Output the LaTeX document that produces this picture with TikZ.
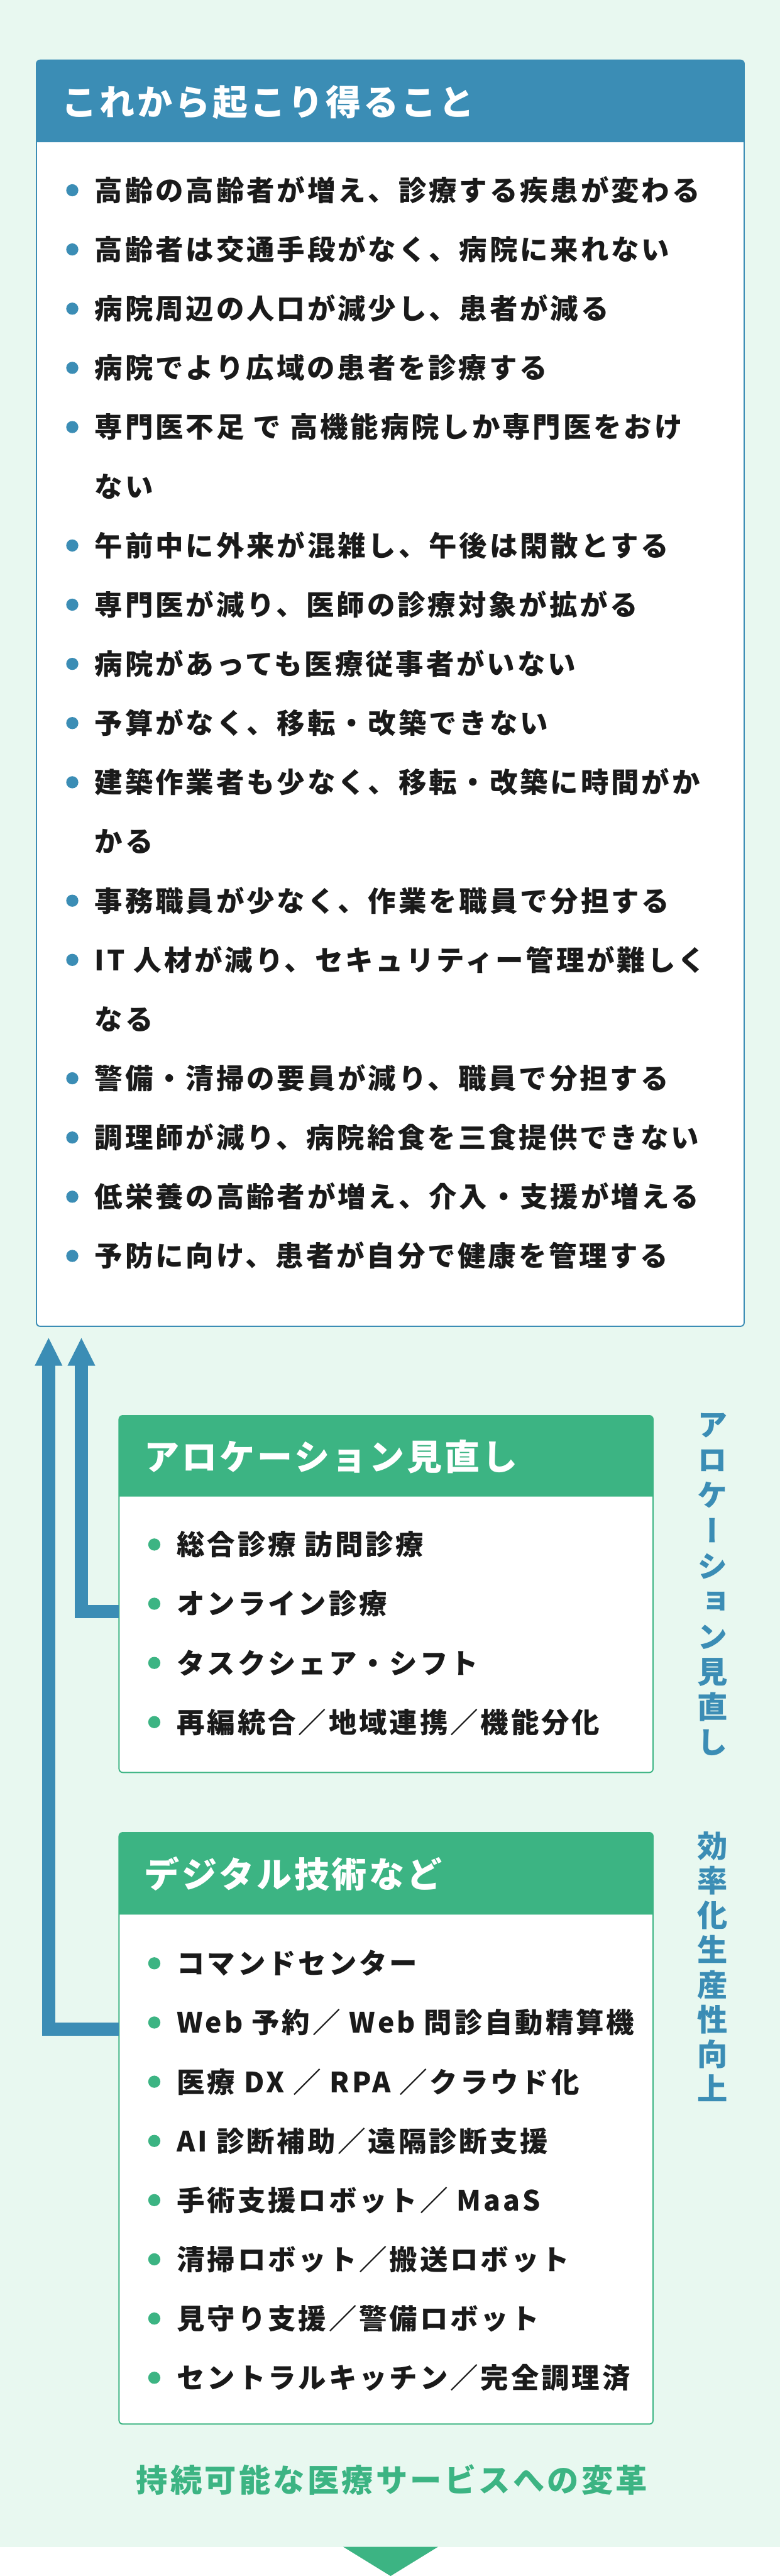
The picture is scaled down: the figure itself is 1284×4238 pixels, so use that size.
\documentclass[tikz,border=0pt]{standalone}
\usepackage{fontspec}
\usetikzlibrary{arrows.meta}
\setmainfont{Noto Sans CJK JP}
\newfontfamily\bodyjp{Noto Sans CJK JP}[LetterSpace=8.7]
\newfontfamily\headjp{Noto Sans CJK JP}[LetterSpace=7]
\newfontfamily\footjp{Noto Sans CJK JP}[LetterSpace=8.5]
\newfontfamily\sidejp{Noto Sans CJK JP}[RawFeature=+vert]
\definecolor{riskblue}{HTML}{3B8DB5}
\definecolor{allocgreen}{HTML}{3CB483}
\definecolor{mint}{HTML}{E8F8F0}
\definecolor{ink}{HTML}{1A1A1A}
\tikzset{
    panel/.style={draw=#1, fill=white, line width=2pt, rounded corners=6pt,
        inner sep=0pt, outer sep=0pt, anchor=north west},
    item/.style={anchor=west, inner sep=0pt, text height=40.5pt, text depth=5.5pt,
        text=ink, font=\fontsize{46pt}{50pt}\bodyjp\bfseries},
    headtext/.style={anchor=west, inner sep=0pt, text height=51pt, text depth=7pt,
        text=white, font=\fontsize{58pt}{62pt}\headjp\bfseries},
    sidetext/.style={inner sep=0pt, text height=44pt, text depth=6pt,
        text=riskblue, font=\fontsize{50pt}{57pt}\sidejp\bfseries},
    foottext/.style={inner sep=0pt, text height=45.8pt, text depth=6.2pt,
        text=allocgreen, font=\fontsize{52pt}{56pt}\footjp\bfseries},
    flow/.style={draw=riskblue, line width=22pt, -{Triangle[width=42pt,length=47pt]}}
}
\begin{document}
\begin{tikzpicture}[x=1pt, y=-1pt]
    \def \pitch {97.4}
    \useasboundingbox (0,0) rectangle (1284,4238);
    \fill[mint] (0,0) rectangle (1284,4190);
    \fill[allocgreen] (565,4190) -- (721,4190) -- (643,4238) -- cycle;
    % これから起こり得ること
    \node[panel=riskblue, minimum width=1165pt, minimum height=2083pt] (risk) at (60,99) {};
    \fill[riskblue] (60,234) [rounded corners=6pt] -- (60,99) -- (1225,99) [sharp corners] -- (1225,234) -- cycle;
    \node[headtext] (riskhead) at (102,168) {これから起こり得ること};
    \foreach \bul/\txt [count=\i from 0] in {
        1/高齢の高齢者が増え、診療する疾患が変わる,
        1/高齢者は交通手段がなく、病院に来れない,
        1/病院周辺の人口が減少し、患者が減る,
        1/病院でより広域の患者を診療する,
        1/専門医不足 で 高機能病院しか専門医をおけ,
        0/ない,
        1/午前中に外来が混雑し、午後は閑散とする,
        1/専門医が減り、医師の診療対象が拡がる,
        1/病院があっても医療従事者がいない,
        1/予算がなく、移転・改築できない,
        1/建築作業者も少なく、移転・改築に時間がか,
        0/かる,
        1/事務職員が少なく、作業を職員で分担する,
        1/IT 人材が減り、セキュリティー管理が難しく,
        0/なる,
        1/警備・清掃の要員が減り、職員で分担する,
        1/調理師が減り、病院給食を三食提供できない,
        1/低栄養の高齢者が増え、介入・支援が増える,
        1/予防に向け、患者が自分で健康を管理する}{
        \node[item] (r\i) at (156, {313+\pitch*\i}) {\txt};
        \ifnum\bul=1 \fill[riskblue] (119, {313+\pitch*\i}) circle (10); \fi
    }
    % アロケーション見直し
    \node[panel=allocgreen, minimum width=879pt, minimum height=587pt] (alloc) at (196,2329) {};
    \fill[allocgreen] (196,2462) [rounded corners=6pt] -- (196,2329) -- (1075,2329) [sharp corners] -- (1075,2462) -- cycle;
    \node[headtext] (allochead) at (237,2397) {アロケーション見直し};
    \foreach \txt [count=\i from 0] in {総合診療 訪問診療, オンライン診療, タスクシェア・シフト, 再編統合／地域連携／機能分化}{
        \node[item] (a\i) at (291, {2541+\pitch*\i}) {\txt};
        \fill[allocgreen] (254, {2541+\pitch*\i}) circle (10);
    }
    % デジタル技術など
    \node[panel=allocgreen, minimum width=879pt, minimum height=973pt] (digi) at (196,3015) {};
    \fill[allocgreen] (196,3150) [rounded corners=6pt] -- (196,3015) -- (1075,3015) [sharp corners] -- (1075,3150) -- cycle;
    \node[headtext] (digihead) at (237,3084) {デジタル技術など};
    \foreach \txt [count=\i from 0] in {コマンドセンター, Web 予約／ Web 問診自動精算機, 医療 DX ／ RPA ／クラウド化,
        AI 診断補助／遠隔診断支援, 手術支援ロボット／ MaaS, 清掃ロボット／搬送ロボット,
        見守り支援／警備ロボット, セントラルキッチン／完全調理済}{
        \node[item] (d\i) at (291, {3230+\pitch*\i}) {\txt};
        \fill[allocgreen] (254, {3230+\pitch*\i}) circle (10);
    }
    % arrows
    \coordinate (tip1) at (80,2200);
    \coordinate (tip2) at (134,2200);
    \coordinate (j1) at (196,3338);
    \coordinate (j2) at (196,2651);
    \draw[flow] (j2) -| (tip2);
    \draw[flow] (j1) -| (tip1);
    % side labels
    \foreach \c [count=\i from 0] in {ア,ロ,ケ,ー,シ,ョ,ン,見,直,し}
        \node[sidetext] (s\i) at (1173, {2344+58*\i}) {\c};
    \foreach \c [count=\i from 0] in {効,率,化,生,産,性,向,上}
        \node[sidetext] (e\i) at (1173, {3037+57*\i}) {\c};
    \node[foottext] (goal) at (645,4080) {持続可能な医療サービスへの変革};
\end{tikzpicture}
\end{document}
